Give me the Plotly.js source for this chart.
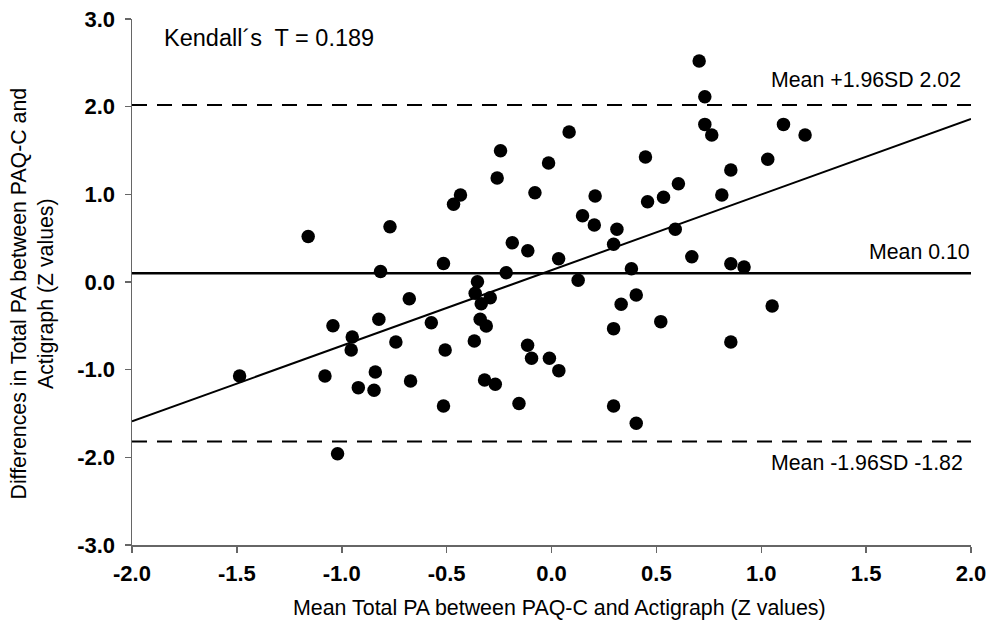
<!DOCTYPE html>
<html>
<head>
<meta charset="utf-8">
<script src="https://cdn.plot.ly/plotly-3.0.1.min.js"></script>
<style>html,body{margin:0;padding:0;background:#fff;}#chart{width:988px;height:625px;}</style>
</head>
<body>
<div id="chart"></div>
<script>
// Bland-Altman style data
const meanZ = [-1.487,-1.16,-1.08,-1.042,-1.02,-0.95,-0.955,-0.921,-0.846,-0.840,-0.823,-0.815,-0.77,-0.742,-0.678,-0.672,-0.573,-0.515,-0.507,-0.515,-0.467,-0.434,-0.368,-0.353,-0.364,-0.340,-0.335,-0.311,-0.319,-0.292,-0.268,-0.259,-0.243,-0.216,-0.187,-0.155,-0.114,-0.113,-0.095,-0.079,-0.014,-0.010,0.034,0.035,0.084,0.127,0.148,0.204,0.208,0.296,0.312,0.296,0.296,0.332,0.381,0.404,0.404,0.448,0.458,0.521,0.534,0.590,0.605,0.669,0.704,0.731,0.731,0.764,0.812,0.855,0.855,0.855,0.918,1.031,1.052,1.106,1.209];
const diffZ = [-1.072,0.52,-1.072,-0.50,-1.958,-0.627,-0.775,-1.205,-1.235,-1.026,-0.425,0.12,0.63,-0.684,-0.19,-1.129,-0.464,0.21,-0.775,-1.414,0.886,0.992,-0.673,0.004,-0.129,-0.425,-0.247,-0.502,-1.117,-0.179,-1.167,1.186,1.497,0.106,0.448,-1.387,-0.722,0.357,-0.870,1.018,1.357,-0.870,0.266,-1.011,1.71,0.019,0.756,0.650,0.981,0.430,0.601,-0.532,-1.414,-0.254,0.152,-0.148,-1.611,1.425,0.916,-0.452,0.966,0.601,1.121,0.289,2.52,2.113,1.798,1.676,0.992,1.277,0.209,-0.684,0.171,1.399,-0.274,1.798,1.676];

const lineX = [-2, 2];
const meanDiff = 0.10;
const upperLoA = 2.02;
const lowerLoA = -1.82;
const regressionY = [-1.59, 1.86];

const xTickVals = [-2, -1.5, -1, -0.5, 0, 0.5, 1, 1.5, 2];
const xTickText = ['-2.0','-1.5','-1.0','-0.5','0.0','0.5','1.0','1.5','2.0'];
const yTickVals = [-3, -2, -1, 0, 1, 2, 3];
const yTickText = ['-3.0','-2.0','-1.0','0.0','1.0','2.0','3.0'];

const FONT = 'Arial, "Liberation Sans", sans-serif';

const traces = [
  {x: lineX, y: [meanDiff, meanDiff], mode: 'lines', line: {color: '#000', width: 2.5}, hoverinfo: 'skip'},
  {x: lineX, y: [upperLoA, upperLoA], mode: 'lines', line: {color: '#000', width: 2, dash: '15px,10px'}, hoverinfo: 'skip'},
  {x: lineX, y: [lowerLoA, lowerLoA], mode: 'lines', line: {color: '#000', width: 2, dash: '15px,10px'}, hoverinfo: 'skip'},
  {x: lineX, y: regressionY, mode: 'lines', line: {color: '#000', width: 2}, hoverinfo: 'skip'},
  {x: meanZ, y: diffZ, mode: 'markers', marker: {color: '#000', size: 13.5}}
];

const PW = 839, PH = 526, ML = 132, MT = 19;
const px = v => (v - ML) / PW;
const py = v => (MT + PH - v) / PH;

const layout = {
  width: 988, height: 625,
  margin: {l: ML, r: 17, t: MT, b: 80},
  paper_bgcolor: '#fff', plot_bgcolor: '#fff',
  showlegend: false,
  font: {family: FONT, color: '#000'},
  xaxis: {
    range: [-2, 2], tickvals: xTickVals, ticktext: xTickText,
    showgrid: false, zeroline: false, showline: true, linecolor: '#666', linewidth: 1.5,
    ticks: 'outside', ticklen: 6, tickcolor: '#666', tickwidth: 1.5, ticklabelstandoff: 2,
    tickfont: {family: FONT, size: 22, weight: 'bold', color: '#000'}
  },
  yaxis: {
    range: [-3, 3], tickvals: yTickVals, ticktext: yTickText,
    showgrid: false, zeroline: false, showline: true, linecolor: '#666', linewidth: 1.5,
    ticks: 'outside', ticklen: 6, tickcolor: '#666', tickwidth: 1.5, ticklabelstandoff: 5,
    tickfont: {family: FONT, size: 22, weight: 'bold', color: '#000'}
  },
  annotations: [
    {xref: 'paper', yref: 'paper', x: px(559.5), y: py(608), xanchor: 'center', yanchor: 'middle',
     text: 'Mean Total PA between PAQ-C and Actigraph (Z values)', showarrow: false,
     font: {family: FONT, size: 21.4, color: '#000'}},
    {xref: 'paper', yref: 'paper', x: px(32.5), y: py(294), xanchor: 'center', yanchor: 'middle',
     text: 'Differences in Total PA between PAQ-C and<br>Actigraph (Z values)', textangle: -90, showarrow: false,
     font: {family: FONT, size: 21.3, color: '#000'}},
    {xref: 'paper', yref: 'paper', x: px(162), y: py(38), xanchor: 'left', yanchor: 'middle',
     text: 'Kendall´s  T = 0.189', showarrow: false, font: {family: FONT, size: 23.5, color: '#000'}},
    {xref: 'paper', yref: 'paper', x: px(963), y: py(80), xanchor: 'right', yanchor: 'middle',
     text: 'Mean +1.96SD 2.02', showarrow: false, font: {family: FONT, size: 21.3, color: '#000'}},
    {xref: 'paper', yref: 'paper', x: px(972), y: py(252), xanchor: 'right', yanchor: 'middle',
     text: 'Mean 0.10', showarrow: false, font: {family: FONT, size: 21.3, color: '#000'}},
    {xref: 'paper', yref: 'paper', x: px(965), y: py(463), xanchor: 'right', yanchor: 'middle',
     text: 'Mean -1.96SD -1.82', showarrow: false, font: {family: FONT, size: 21.3, color: '#000'}}
  ]
};

Plotly.newPlot('chart', traces, layout, {displayModeBar: false, staticPlot: true});
</script>
</body>
</html>
